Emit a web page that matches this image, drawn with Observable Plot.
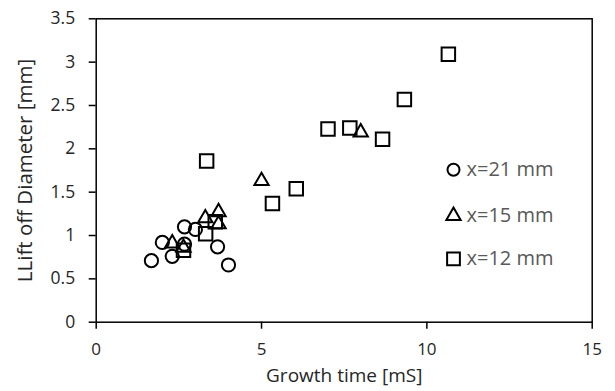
<!DOCTYPE html>
<html><head><meta charset="utf-8">
<script src="https://cdn.jsdelivr.net/npm/d3@7"></script>
<script src="https://cdn.jsdelivr.net/npm/@observablehq/plot@0.6"></script>
<style>
html,body{margin:0;padding:0;background:#fff;overflow:hidden}
#chart svg{display:block}
</style>
</head><body><div id="chart"></div>
<script>
// Data
const seriesNames = ["x=21 mm", "x=15 mm", "x=12 mm"];
const x21Time = [1.67, 2.0, 2.3, 2.67, 2.67, 3.0, 3.67, 4.0];
const x21Diam = [0.71, 0.92, 0.76, 0.9, 1.1, 1.07, 0.87, 0.66];
const x15Time = [2.3, 2.64, 3.3, 3.7, 3.7, 5.0, 8.0];
const x15Diam = [0.91, 0.86, 1.2, 1.27, 1.13, 1.63, 2.19];
const x12Time = [2.64, 3.31, 3.34, 3.6, 5.33, 6.05, 7.01, 7.67, 8.66, 9.32, 10.65];
const x12Diam = [0.83, 1.02, 1.86, 1.16, 1.37, 1.54, 2.23, 2.24, 2.11, 2.57, 3.09];
const xTicks = [0, 5, 10, 15];
const yTicks = [0, 0.5, 1, 1.5, 2, 2.5, 3, 3.5];
const xTitle = "Growth time [mS]";
const yTitle = "LLift off Diameter [mm]";

const series = [
  {name: seriesNames[0], symbol: "circle", r: 6.6, pts: x21Time.map((t, i) => ({t, d: x21Diam[i]}))},
  {name: seriesNames[1], symbol: "triangle", r: 5.3, pts: x15Time.map((t, i) => ({t, d: x15Diam[i]}))},
  {name: seriesNames[2], symbol: "square", r: 7.6, pts: x12Time.map((t, i) => ({t, d: x12Diam[i]}))}
];

const mL = 95.7, mT = 18.3, mR = 615 - 591.7, mB = 391 - 321.7;
const axisColor = "#000";
const textColor = "#262626";

const marks = [];
marks.push(Plot.frame({stroke: axisColor, strokeWidth: 1.5}));
marks.push(Plot.axisX({ticks: xTicks, tickSize: 7, tickPadding: 14, fontSize: 17, color: textColor, stroke: axisColor, strokeWidth: 1.5,
  label: null}));
marks.push(Plot.axisY({ticks: yTicks, tickSize: 7, tickPadding: 14, fontSize: 17.5, color: textColor, stroke: axisColor, strokeWidth: 1.5,
  tickFormat: d3.format("~g"), label: null}));
marks.push(Plot.text([xTitle], {frameAnchor: "bottom", dy: 54, text: d => d, lineAnchor: "middle", fontSize: 19, fill: textColor}));
marks.push(Plot.text([yTitle], {frameAnchor: "left", dx: -71, rotate: -90, text: d => d, lineAnchor: "middle", textAnchor: "middle", fontSize: 20.5, fill: textColor}));

// draw in order: squares, triangles, circles
for (const s of [series[2], series[1], series[0]]) {
  marks.push(Plot.dot(s.pts, {x: "t", y: "d", symbol: () => s.symbol, r: s.r, stroke: "#000", strokeWidth: 2, fill: "none"}));
}

// legend inside the plot
const legendDy = [151, 197, 240];
series.forEach((s, i) => {
  marks.push(Plot.dot([s.name], {frameAnchor: "top-left", dx: 453 - mL, dy: legendDy[i], symbol: () => s.symbol,
    r: s.symbol === "circle" ? 6 : s.symbol === "square" ? 7.2 : 5.3, stroke: "#000", strokeWidth: 2, fill: "none"}));
  marks.push(Plot.text([s.name], {frameAnchor: "top-left", dx: 466 - mL, dy: legendDy[i], text: d => d, textAnchor: "start",
    lineAnchor: "middle", fontSize: 20, fill: "#595959"}));
});

const chart = Plot.plot({
  width: 615, height: 391,
  marginLeft: mL, marginTop: mT, marginRight: mR, marginBottom: mB,
  x: {domain: [0, 15]},
  y: {domain: [0, 3.5]},
  symbol: {type: "identity"},
  style: {fontFamily: "'Open Sans', sans-serif", fontSize: "17px", background: "#fff"},
  marks
});
document.getElementById("chart").appendChild(chart);
</script>
</body></html>
